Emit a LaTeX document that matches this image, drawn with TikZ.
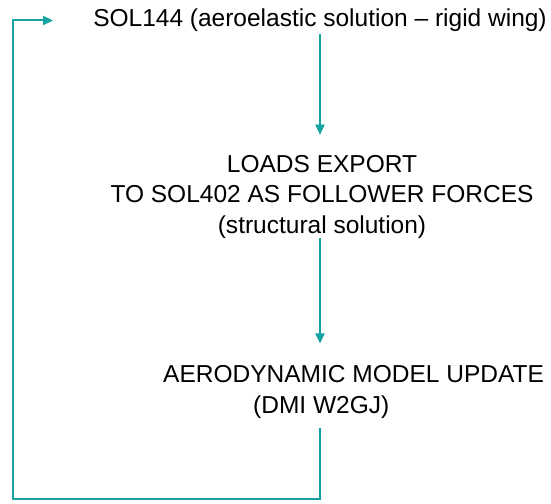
\documentclass[tikz,border=0pt]{standalone}
\usepackage{fontspec}
\setmainfont{Liberation Sans}
\usepackage{tikz}
\usetikzlibrary{arrows.meta,positioning,calc}
\usepackage{xcolor}
\definecolor{loopteal}{RGB}{20,163,160}

\begin{document}
\begin{tikzpicture}[
        x=1pt, y=-1pt,
        txt/.style={inner sep=0pt,align=center,font=\fontsize{24.5}{30.5}\selectfont},
        flow/.style={-{Triangle[length=10pt,width=9pt]},line width=2pt,draw=loopteal}
    ]
        \useasboundingbox (0,0) rectangle (551,503);

        \node[txt] (sol144) at (320,20.5) {SOL144 (aeroelastic solution -- rigid wing)};
        \node[txt] (loads) at (322,196.5) {LOADS EXPORT\\TO SOL402 AS FOLLOWER FORCES\\(structural solution)};
        \node[txt,align=left,anchor=west] (aero) at (163,392) {AERODYNAMIC MODEL UPDATE\\\hspace*{90pt}(DMI W2GJ)};
        \coordinate (corner) at (13,499);

        \draw[flow, shorten <=2pt, shorten >=20pt] (sol144.south) -- (sol144.south |- loads.north);
        \draw[flow, shorten >=22pt] (sol144.south |- loads.south) -- (sol144.south |- aero.north);
        \draw[flow, shorten <=9pt, shorten >=40pt] (sol144.south |- aero.south) |- (corner) |- (sol144.west);
    \end{tikzpicture}
\end{document}
